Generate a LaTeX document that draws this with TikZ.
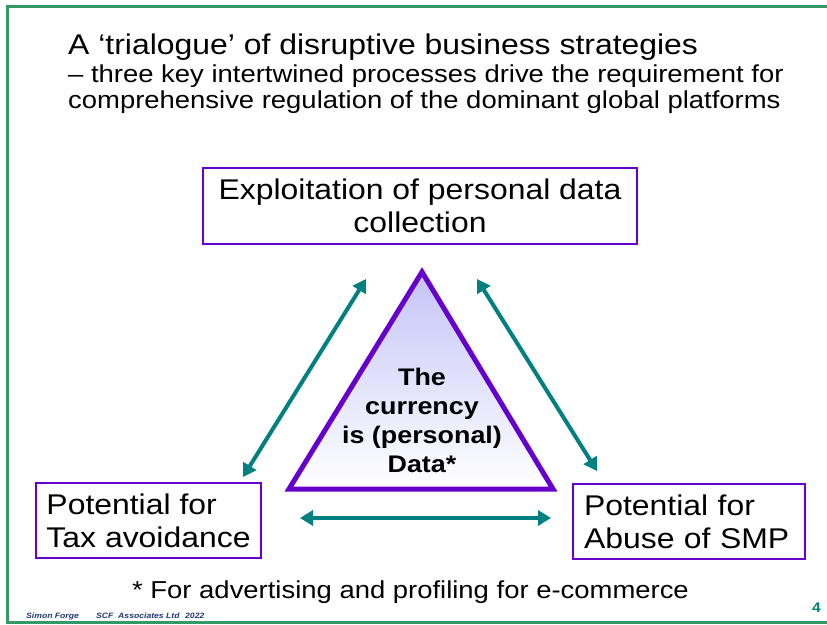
\documentclass[tikz,border=0pt]{standalone}
\usepackage{fontspec}
\setmainfont{Liberation Sans}[FakeStretch=1.12]
\usetikzlibrary{arrows.meta}
\definecolor{framegreen}{RGB}{51,153,102}
\definecolor{boxpurple}{RGB}{102,0,204}
\definecolor{arrowteal}{RGB}{0,128,128}
\definecolor{trilav}{RGB}{196,196,248}
\definecolor{footblue}{RGB}{31,56,120}

\begin{document}
\begin{tikzpicture}
		[x=1pt, y=-1pt,
		heading/.style={anchor=base west, inner sep=0pt},
		strategy/.style={draw=boxpurple, line width=2pt, inner sep=0pt, align=center, font=\fontsize{28.5}{33}\selectfont},
		link/.style={draw=arrowteal, line width=4pt, {Triangle[length=13pt,width=15pt]}-{Triangle[length=13pt,width=15pt]}},
		footer/.style={heading, text=footblue, font=\bfseries\itshape\fontsize{7.7}{8}\selectfont}]
		\useasboundingbox (0,0) rectangle (827,624);
		\draw[framegreen, line width=3pt] (7,6) rectangle (840,622.5);

		\node[heading, font=\fontsize{28.5}{32}\selectfont] (title) at (68,54) {A ‘trialogue’ of disruptive business strategies};
		\node[heading, font=\fontsize{24.5}{26}\selectfont] (sub1) at (68,82) {– three key intertwined processes drive the requirement for};
		\node[heading, font=\fontsize{24.5}{26}\selectfont] (sub2) at (68,108) {comprehensive regulation of the dominant global platforms};

		\node[strategy, minimum width=434pt, minimum height=76pt] (exploit) at (420,206) {Exploitation of personal data\\collection};
		\node[strategy, minimum width=225pt, minimum height=75pt, align=left] (tax) at (148.5,520.5) {Potential for\\Tax avoidance};
		\node[strategy, minimum width=232pt, minimum height=75pt, text width=210pt, align=left] (smp) at (689,521.5) {Potential for\\Abuse of SMP};

		% the data triangle
		\coordinate (apex) at (422,272);
		\coordinate (baseL) at (289,489);
		\coordinate (baseR) at (553,489);
		\draw[boxpurple, line width=5pt, top color=trilav, bottom color=white] (apex) -- (baseR) -- (baseL) -- cycle;
		\node[align=center, font=\bfseries\fontsize{24}{29}\selectfont] (currency) at (422,420) {The\\currency\\is (personal)\\Data*};

		% arrow ends
		\coordinate (taxUp) at (243,477);
		\coordinate (exploitL) at (366,279);
		\coordinate (exploitR) at (477,279);
		\coordinate (smpUp) at (597,471);
		\coordinate (taxR) at (300,518);
		\coordinate (smpL) at (551,518);

		\draw[link] (taxUp) -- (exploitL);
		\draw[link] (exploitR) -- (smpUp);
		\draw[link] (taxR) -- (smpL);

		\node[anchor=base, font=\fontsize{24.5}{26}\selectfont] (note) at (410.5,598) {* For advertising and profiling for e-commerce};

		\node[footer] (author) at (26,618) {Simon Forge};
		\node[footer] (firm) at (96,618) {SCF\ \ Associates Ltd};
		\node[footer] (year) at (185,618) {2022};
		\node[anchor=base, text=arrowteal, font=\bfseries\fontsize{14}{14}\selectfont] (page) at (816.5,612) {4};
	\end{tikzpicture}
\end{document}
